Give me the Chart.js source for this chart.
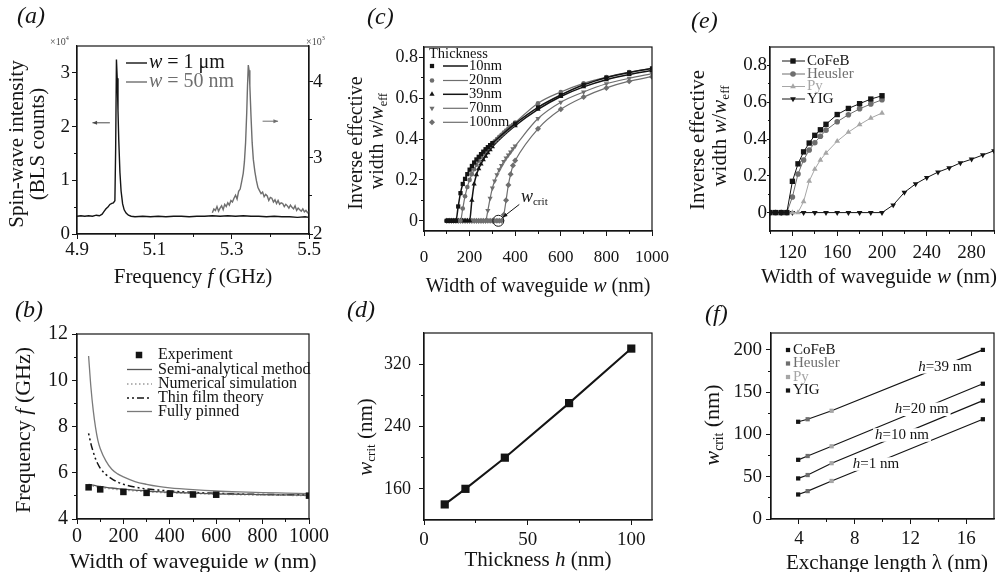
<!DOCTYPE html>
<html>
<head>
<meta charset="utf-8">
<title>Spin-wave waveguide figure</title>
<script src="https://cdn.jsdelivr.net/npm/chart.js@4.4.1/dist/chart.umd.min.js"></script>
<style>
  html, body { margin: 0; padding: 0; background: #fff; }
  #fig { position: relative; width: 998px; height: 572px; overflow: hidden; background: #fff; }
  #fig canvas { position: absolute; left: 0; top: 0; }
</style>
</head>
<body>
<div id="fig">
  <canvas id="chartA" width="998" height="572"></canvas>
  <canvas id="chartB" width="998" height="572"></canvas>
  <canvas id="chartC" width="998" height="572"></canvas>
  <canvas id="chartD" width="998" height="572"></canvas>
  <canvas id="chartE" width="998" height="572"></canvas>
  <canvas id="chartF" width="998" height="572"></canvas>
</div>
<script>
/* 1. 그림에서 읽은 데이터 */

// (a) BLS 스펙트럼
const aBlackF = [4.900, 4.910, 4.920, 4.930, 4.940, 4.950, 4.958, 4.965, 4.970, 4.975, 4.980,
                 4.985, 4.990, 4.994, 4.998, 5.000, 5.002, 5.004, 5.006, 5.008, 5.011,
                 5.014, 5.018, 5.022, 5.027, 5.033, 5.040, 5.050, 5.070, 5.090, 5.110,
                 5.130, 5.150, 5.170, 5.190, 5.210, 5.230, 5.250, 5.270, 5.290, 5.310,
                 5.330, 5.350, 5.370, 5.390, 5.410, 5.430, 5.450, 5.470, 5.490, 5.500];
const aBlackI = [0.33, 0.34, 0.33, 0.34, 0.33, 0.35, 0.34, 0.37, 0.42, 0.47, 0.50,
                 0.55, 0.57, 0.58, 0.62, 1.60, 3.25, 2.90, 2.30, 1.75, 1.15,
                 0.80, 0.56, 0.45, 0.39, 0.35, 0.33, 0.32, 0.33, 0.32, 0.33,
                 0.32, 0.33, 0.33, 0.32, 0.33, 0.33, 0.34, 0.33, 0.34, 0.33,
                 0.34, 0.33, 0.33, 0.32, 0.33, 0.32, 0.32, 0.31, 0.32, 0.31];
const aGrayF = [5.250, 5.254, 5.258, 5.262, 5.266,
                5.270, 5.274, 5.278, 5.282, 5.286,
                5.290, 5.294, 5.298, 5.302, 5.306,
                5.310, 5.314, 5.318, 5.322, 5.326,
                5.330, 5.333, 5.336, 5.339, 5.341,
                5.343, 5.345, 5.347, 5.350, 5.353,
                5.356, 5.360, 5.364, 5.368, 5.372,
                5.376, 5.380, 5.384, 5.388, 5.392,
                5.396, 5.400, 5.404, 5.408, 5.412,
                5.416, 5.420, 5.424, 5.428, 5.432,
                5.436, 5.440, 5.444, 5.448, 5.452,
                5.456, 5.460, 5.464, 5.468, 5.472,
                5.476, 5.480, 5.484, 5.488, 5.492,
                5.496, 5.500];
const aGrayI = [2.28, 2.33, 2.31, 2.36, 2.30,
                2.34, 2.37, 2.32, 2.39, 2.36,
                2.41, 2.38, 2.44, 2.42, 2.47,
                2.51, 2.46, 2.56, 2.59, 2.69,
                2.80, 2.95, 3.20, 3.60, 3.95,
                4.22, 4.15, 3.95, 3.55, 3.20,
                2.98, 2.82, 2.70, 2.61, 2.57,
                2.53, 2.55, 2.49, 2.52, 2.50,
                2.44, 2.48, 2.47, 2.42, 2.45,
                2.40, 2.44, 2.39, 2.41, 2.40,
                2.36, 2.39, 2.37, 2.34, 2.38,
                2.35, 2.33, 2.37, 2.31, 2.34,
                2.32, 2.30, 2.33, 2.29, 2.31,
                2.28, 2.30];
const aXMajor = [4.9, 5.1, 5.3, 5.5], aXMinor = [5.0, 5.2, 5.4];
const aYMajor = [0, 1, 2, 3], aYMinor = [0.5, 1.5, 2.5];
const aY2Major = [2, 3, 4], aY2Minor = [2.5, 3.5];

// (b) 주파수 vs 폭
const bExpW = [50, 100, 200, 300, 400, 500, 600, 1000];
const bExpF = [5.37, 5.28, 5.17, 5.13, 5.09, 5.06, 5.05, 5.01];
const bW = [50, 60, 70, 80, 90, 100, 125, 150, 175, 200, 250, 300, 350, 400, 500, 600, 700, 800, 900, 1000];
const bSemi = [5.50, 5.48, 5.46, 5.44, 5.42, 5.41, 5.37, 5.34, 5.31, 5.29, 5.25, 5.21, 5.18, 5.16, 5.12, 5.09, 5.07, 5.05, 5.04, 5.03];
const bNum = [5.46, 5.44, 5.42, 5.40, 5.38, 5.36, 5.33, 5.30, 5.27, 5.25, 5.21, 5.18, 5.15, 5.13, 5.10, 5.07, 5.05, 5.03, 5.02, 5.01];
const bThin = [7.70, 7.25, 6.90, 6.60, 6.38, 6.20, 5.92, 5.74, 5.60, 5.50, 5.38, 5.30, 5.25, 5.21, 5.15, 5.11, 5.08, 5.06, 5.05, 5.04];
const bPinned = [11.05, 9.70, 8.70, 7.95, 7.40, 7.05, 6.50, 6.15, 5.95, 5.82, 5.62, 5.50, 5.41, 5.35, 5.27, 5.21, 5.17, 5.14, 5.12, 5.10];
const bXMajor = [0, 200, 400, 600, 800, 1000], bXMinor = [100, 300, 500, 700, 900];
const bYMajor = [4, 6, 8, 10, 12], bYMinor = [5, 7, 9, 11];

// (c) 두께별 w/w_eff
const c10W = [100, 110, 120, 130, 140, 150, 160, 170, 180, 190, 200, 210, 220, 230, 240, 250, 260, 270, 280, 290, 300,
              400, 500, 600, 700, 800, 900, 1000];
const c10V = [0, 0, 0, 0, 0, 0.07, 0.135, 0.18, 0.205, 0.228, 0.25, 0.268, 0.285, 0.30, 0.313, 0.326, 0.338, 0.35, 0.36, 0.37, 0.38,
              0.475, 0.555, 0.615, 0.665, 0.70, 0.725, 0.745];
const c20W = [100, 110, 120, 130, 140, 150, 160, 170, 180, 190, 200, 210, 220, 230, 240, 250, 260, 270, 280, 290, 300,
              310, 320, 330, 340, 350, 360, 370, 380, 390, 400, 500, 600, 700, 800, 900, 1000];
const c20V = [0, 0, 0, 0, 0, 0, 0, 0.06, 0.12, 0.165, 0.20, 0.228, 0.252, 0.274, 0.294, 0.312, 0.328, 0.342, 0.355, 0.367, 0.378,
              0.389, 0.40, 0.411, 0.421, 0.431, 0.441, 0.451, 0.461, 0.47, 0.48, 0.575, 0.63, 0.672, 0.703, 0.727, 0.745];
const c39W = [100, 110, 120, 130, 140, 150, 160, 170, 180, 190, 200, 210, 220, 230, 240, 250, 260, 270, 280, 290, 300,
              400, 500, 600, 700, 800, 900, 1000];
const c39V = [0, 0, 0, 0, 0, 0, 0, 0, 0, 0, 0, 0.10, 0.18, 0.225, 0.255, 0.278, 0.298, 0.316, 0.333, 0.348, 0.362,
              0.465, 0.545, 0.608, 0.655, 0.69, 0.715, 0.735];
const c70W = [100, 110, 120, 130, 140, 150, 160, 170, 180, 190, 200, 210, 220, 230, 240, 250, 260, 270,
              280, 290, 300, 310, 320, 330, 340, 350, 360, 370, 380, 390, 400, 500, 600, 700, 800, 900, 1000];
const c70V = [0, 0, 0, 0, 0, 0, 0, 0, 0, 0, 0, 0, 0, 0, 0, 0, 0, 0,
              0.05, 0.11, 0.16, 0.195, 0.225, 0.25, 0.27, 0.29, 0.307, 0.322, 0.337, 0.352, 0.366, 0.50, 0.58, 0.63, 0.67, 0.697, 0.72];
const c100W = [100, 110, 120, 130, 140, 150, 160, 170, 180, 190, 200, 210, 220, 230, 240, 250, 260, 270, 280, 290, 300,
               310, 320, 330, 340, 350, 360, 370, 380, 390, 400, 500, 600, 700, 800, 900, 1000];
const c100V = [0, 0, 0, 0, 0, 0, 0, 0, 0, 0, 0, 0, 0, 0, 0, 0, 0, 0, 0, 0, 0,
               0, 0, 0, 0, 0.03, 0.10, 0.175, 0.228, 0.27, 0.295, 0.45, 0.545, 0.605, 0.65, 0.683, 0.705];
const cXMajor = [0, 200, 400, 600, 800, 1000], cXMinor = [100, 300, 500, 700, 900];
const cYMajor = [0, 0.2, 0.4, 0.6, 0.8], cYMinor = [0.1, 0.3, 0.5, 0.7];

// (d) w_crit vs 두께
const dThick = [10, 20, 39, 70, 100];
const dWcrit = [140, 160, 200, 270, 340];
const dXMajor = [0, 50, 100], dXMinor = [25, 75];
const dYMajor = [160, 240, 320], dYMinor = [200, 280];

// (e) 재료별 w/w_eff
const eW1 = [100, 105, 110, 115, 120, 125, 130, 135, 140, 145, 150, 160, 170, 180, 190, 200];
const eCoFeB = [0, 0, 0, 0, 0.17, 0.265, 0.33, 0.378, 0.42, 0.45, 0.48, 0.533, 0.566, 0.592, 0.617, 0.635];
const eHeusler = [0, 0, 0, 0, 0.085, 0.21, 0.286, 0.34, 0.38, 0.415, 0.448, 0.494, 0.532, 0.564, 0.59, 0.613];
const ePy = [0, 0, 0, 0, 0, 0, 0.06, 0.171, 0.236, 0.286, 0.324, 0.388, 0.437, 0.478, 0.514, 0.541];
const eW2 = [100, 110, 120, 130, 140, 150, 160, 170, 180, 190, 200, 210, 220, 230, 240, 250, 260, 270, 280, 290, 300];
const eYIG = [0, 0, 0, 0, 0, 0, 0, 0, 0, 0, 0, 0.041, 0.11, 0.156, 0.19, 0.22, 0.243, 0.27, 0.29, 0.313, 0.336];
const eXMajor = [120, 160, 200, 240, 280], eXMinor = [100, 140, 180, 220, 260, 300];
const eYMajor = [0, 0.2, 0.4, 0.6, 0.8], eYMinor = [0.1, 0.3, 0.5, 0.7];

// (f) w_crit vs 교환길이
const fMaterials = ['CoFeB', 'Heusler', 'Py', 'YIG'];
const fLambda = [3.95, 4.63, 6.35, 17.2];
const fH1 = [29, 33, 45, 118];
const fH10 = [48, 52, 66, 140];
const fH20 = [70, 74.5, 86, 160];
const fH39 = [115, 118, 128, 200];
const fXMajor = [4, 8, 12, 16], fXMinor = [6, 10, 14];
const fYMajor = [0, 50, 100, 150, 200], fYMinor = [25, 75, 125, 175];

/* 2. 공통 스타일 / 헬퍼 */
const W = 998, H = 572;
const SERIF = '"Liberation Serif", "Times New Roman", serif';
const BLACK = '#141414', DARK = '#4a4a4a', GRAY = '#6e6e6e', LIGHT = '#a6a6a6';
const MAT_COLORS = [BLACK, GRAY, LIGHT, BLACK];

// 축 박스 크기 (라벨이 축 박스 안으로 클립되므로 실제 크기가 필요)
const XBOX = 45, YBOX = 70, Y2BOX = 25;

// 각 패널의 플롯 영역 (페이지 좌표)
const AREA = {
    a: { l: 77, t: 46, r: 309, b: 234, right: Y2BOX },
    b: { l: 77, t: 334, r: 309, b: 519 },
    c: { l: 424, t: 47, r: 652, b: 231 },
    d: { l: 424, t: 333, r: 652, b: 520 },
    e: { l: 770, t: 47, r: 997, b: 231 },
    f: { l: 771, t: 333, r: 997, b: 519 }
};

function pts(xs, ys) {
    return xs.map((x, i) => ({ x: x, y: ys[i] }));
}

function fitTo(size) {
    return s => {
        if (s.isHorizontal()) s.height = size; else s.width = size;
        s.paddingLeft = 0; s.paddingRight = 0; s.paddingTop = 0; s.paddingBottom = 0;
    };
}

function linAxis(pos, min, max, majors, fs, pad, tl) {
    const size = pos === 'bottom' ? XBOX : (pos === 'right' ? Y2BOX : YBOX);
    return {
        type: 'linear', position: pos, min: min, max: max,
        afterBuildTicks: s => { s.ticks = majors.map(v => ({ value: v })); },
        afterFit: fitTo(size),
        grid: { drawOnChartArea: false, drawTicks: true, tickLength: tl, color: BLACK, tickColor: BLACK, tickWidth: 1 },
        border: { display: true, color: BLACK, width: 1.2 },
        ticks: { autoSkip: false, maxRotation: 0, padding: pad, color: BLACK,
                  font: { family: SERIF, size: fs }, callback: v => String(v) }
    };
}

function minorAxis(pos, min, max, minors, tl) {
    return {
        type: 'linear', position: pos, min: min, max: max, weight: -1,
        afterBuildTicks: s => { s.ticks = minors.map(v => ({ value: v })); },
        afterFit: fitTo(0),
        grid: { drawOnChartArea: false, drawTicks: true, tickLength: tl, color: BLACK, tickColor: BLACK, tickWidth: 1 },
        border: { display: false },
        ticks: { display: false }
    };
}

function baseOptions(area, scales) {
    return {
        responsive: false, animation: false, devicePixelRatio: 1, events: [],
        layout: { padding: {
            left: area.l - YBOX, top: area.t,
            right: W - area.r - (area.right || 0), bottom: H - area.b - XBOX } },
        plugins: { legend: { display: false }, tooltip: { enabled: false } },
        scales: scales
    };
}

const framePlugin = {
    id: 'frame',
    afterDatasetsDraw(chart) {
        const a = chart.chartArea, ctx = chart.ctx;
        ctx.save();
        ctx.strokeStyle = BLACK;
        ctx.lineWidth = 1.2;
        ctx.strokeRect(a.left, a.top, a.right - a.left, a.bottom - a.top);
        ctx.restore();
    }
};

function decor(fn) {
    return { id: 'decor', afterDraw(chart) { fn(chart.ctx, chart); } };
}

// 이탤릭 / 아래첨자 / 위첨자가 섞인 텍스트
function richText(ctx, x, y, runs, size, opts) {
    opts = opts || {};
    ctx.save();
    ctx.translate(x, y);
    if (opts.rot) ctx.rotate(opts.rot);
    ctx.textBaseline = 'middle';
    ctx.textAlign = 'left';
    ctx.fillStyle = opts.color || BLACK;
    const parts = runs.map(r => {
        const st = r[1] || 'n';
        const fs = (st === 'sub' || st === 'sup') ? size * 0.62 : size;
        const font = (st === 'i' ? 'italic ' : '') + fs + 'px ' + SERIF;
        ctx.font = font;
        return { t: r[0], st: st, font: font, w: ctx.measureText(r[0]).width };
    });
    const total = parts.reduce((s, p) => s + p.w, 0);
    let cx = opts.align === 'left' ? 0 : (opts.align === 'right' ? -total : -total / 2);
    if (opts.bg) {
        ctx.fillStyle = opts.bg;
        ctx.fillRect(cx - 2, -size * 0.45, total + 4, size * 0.9);
        ctx.fillStyle = opts.color || BLACK;
    }
    parts.forEach(p => {
        ctx.font = p.font;
        const dy = p.st === 'sub' ? size * 0.28 : (p.st === 'sup' ? -size * 0.35 : 0);
        ctx.fillText(p.t, cx, dy);
        cx += p.w;
    });
    ctx.restore();
    return total;
}

function drawMarker(ctx, style, x, y, r, color, rot) {
    ctx.save();
    ctx.fillStyle = color;
    ctx.beginPath();
    if (style === 'rect') {
        const s = r * Math.SQRT1_2;
        ctx.rect(x - s, y - s, 2 * s, 2 * s);
    } else if (style === 'circle') {
        ctx.arc(x, y, r, 0, Math.PI * 2);
    } else if (style === 'rectRot') {
        ctx.moveTo(x, y - r); ctx.lineTo(x + r, y); ctx.lineTo(x, y + r); ctx.lineTo(x - r, y); ctx.closePath();
    } else if (style === 'triangle') {
        const d = rot ? -1 : 1;
        ctx.moveTo(x, y - d * r);
        ctx.lineTo(x + r * 0.866, y + d * r * 0.5);
        ctx.lineTo(x - r * 0.866, y + d * r * 0.5);
        ctx.closePath();
    }
    ctx.fill();
    ctx.restore();
}

function lineSample(ctx, x0, x1, y, color, width, dash) {
    ctx.save();
    ctx.strokeStyle = color;
    ctx.lineWidth = width;
    ctx.setLineDash(dash || []);
    ctx.beginPath();
    ctx.moveTo(x0, y);
    ctx.lineTo(x1, y);
    ctx.stroke();
    ctx.restore();
}

function arrow(ctx, x0, y0, x1, y1, color, head) {
    const ang = Math.atan2(y1 - y0, x1 - x0);
    ctx.save();
    ctx.strokeStyle = color;
    ctx.fillStyle = color;
    ctx.lineWidth = 1;
    ctx.beginPath(); ctx.moveTo(x0, y0); ctx.lineTo(x1, y1); ctx.stroke();
    ctx.beginPath();
    ctx.moveTo(x1, y1);
    ctx.lineTo(x1 - head * Math.cos(ang - 0.4), y1 - head * Math.sin(ang - 0.4));
    ctx.lineTo(x1 - head * Math.cos(ang + 0.4), y1 - head * Math.sin(ang + 0.4));
    ctx.closePath();
    ctx.fill();
    ctx.restore();
}

const ROT = -Math.PI / 2;

/* 3. (a) */
new Chart(document.getElementById('chartA'), {
    type: 'scatter',
    data: { datasets: [
        { label: 'w = 1 μm', data: pts(aBlackF, aBlackI), showLine: true, borderColor: BLACK, borderWidth: 1.4, pointRadius: 0, yAxisID: 'y' },
        { label: 'w = 50 nm', data: pts(aGrayF, aGrayI), showLine: true, borderColor: GRAY, borderWidth: 1.4, pointRadius: 0, yAxisID: 'y2' }
    ] },
    options: baseOptions(AREA.a, {
        x: linAxis('bottom', 4.9, 5.5, aXMajor, 19, 0, 5),
        xm: minorAxis('bottom', 4.9, 5.5, aXMinor, 3),
        y: linAxis('left', 0, 3.5, aYMajor, 19, 2, 5),
        ym: minorAxis('left', 0, 3.5, aYMinor, 3),
        y2: linAxis('right', 2, 4.47, aY2Major, 19, 0, 4),
        y2m: minorAxis('right', 2, 4.47, aY2Minor, 3)
    }),
    plugins: [framePlugin, decor((ctx, c) => {
        richText(ctx, 17, 17, [['(a)', 'i']], 24, { align: 'left' });
        richText(ctx, 193, 277, [['Frequency ', 'n'], ['f', 'i'], [' (GHz)', 'n']], 21);
        richText(ctx, 17, 144, [['Spin-wave intensity', 'n']], 21, { rot: ROT });
        richText(ctx, 38, 144, [['(BLS counts)', 'n']], 21, { rot: ROT });
        richText(ctx, 50, 42, [['×10', 'n'], ['4', 'sup']], 10, { align: 'left', color: DARK });
        richText(ctx, 306, 42, [['×10', 'n'], ['3', 'sup']], 10, { align: 'left', color: DARK });
        // 범례
        lineSample(ctx, 126, 147, 63, BLACK, 1.4);
        richText(ctx, 149, 63, [['w', 'i'], [' = 1 μm', 'n']], 20, { align: 'left' });
        lineSample(ctx, 126, 147, 82, GRAY, 1.4);
        richText(ctx, 149, 82, [['w', 'i'], [' = 50 nm', 'n']], 20, { align: 'left', color: GRAY });
        // 축 방향 화살표
        const x = c.scales.x, y = c.scales.y;
        arrow(ctx, x.getPixelForValue(4.985), y.getPixelForValue(2.07), x.getPixelForValue(4.94), y.getPixelForValue(2.07), DARK, 5);
        arrow(ctx, x.getPixelForValue(5.38), y.getPixelForValue(2.1), x.getPixelForValue(5.42), y.getPixelForValue(2.1), GRAY, 5);
    })]
});

/* 4. (b) */
new Chart(document.getElementById('chartB'), {
    type: 'scatter',
    data: { datasets: [
        { label: 'Experiment', data: pts(bExpW, bExpF), pointStyle: 'rect', pointRadius: 4.6, backgroundColor: BLACK, borderWidth: 0 },
        { label: 'Semi-analytical method', data: pts(bW, bSemi), showLine: true, borderColor: '#555', borderWidth: 1.3, pointRadius: 0, cubicInterpolationMode: 'monotone' },
        { label: 'Numerical simulation', data: pts(bW, bNum), showLine: true, borderColor: '#9a9a9a', borderDash: [1.5, 2.5], borderWidth: 1.3, pointRadius: 0, cubicInterpolationMode: 'monotone' },
        { label: 'Thin film theory', data: pts(bW, bThin), showLine: true, borderColor: BLACK, borderDash: [2, 3, 2, 3, 7, 3], borderWidth: 1.5, pointRadius: 0, cubicInterpolationMode: 'monotone' },
        { label: 'Fully pinned', data: pts(bW, bPinned), showLine: true, borderColor: '#7a7a7a', borderWidth: 1.3, pointRadius: 0, cubicInterpolationMode: 'monotone' }
    ] },
    options: baseOptions(AREA.b, {
        x: linAxis('bottom', 0, 1000, bXMajor, 20, 1, 5),
        xm: minorAxis('bottom', 0, 1000, bXMinor, 3),
        y: linAxis('left', 4, 12, bYMajor, 20, 4, 5),
        ym: minorAxis('left', 4, 12, bYMinor, 3)
    }),
    plugins: [framePlugin, decor((ctx, c) => {
        richText(ctx, 15, 311, [['(b)', 'i']], 24, { align: 'left' });
        richText(ctx, 193, 562, [['Width of waveguide ', 'n'], ['w', 'i'], [' (nm)', 'n']], 22);
        richText(ctx, 24, 430, [['Frequency ', 'n'], ['f', 'i'], [' (GHz)', 'n']], 22, { rot: ROT });
        const rows = [355, 369.5, 384, 398, 411.5];
        c.data.datasets.forEach((ds, i) => {
            if (i === 0) drawMarker(ctx, 'rect', 139, rows[i], 4.6, BLACK);
            else lineSample(ctx, 127, 152, rows[i], ds.borderColor, ds.borderWidth, ds.borderDash);
            richText(ctx, 158, rows[i], [[ds.label, 'n']], 16, { align: 'left' });
        });
    })]
});

/* 5. (c) */
function cSeries(label, w, v, color, style, r, rot, bw) {
    return { label: label, data: pts(w, v), showLine: true, borderColor: color, backgroundColor: color,
             borderWidth: bw, pointStyle: style, pointRadius: r, pointRotation: rot, pointBorderWidth: 0,
             cubicInterpolationMode: 'monotone' };
}
new Chart(document.getElementById('chartC'), {
    type: 'scatter',
    data: { datasets: [
        cSeries('10nm', c10W, c10V, BLACK, 'rect', 3, 0, 1.5),
        cSeries('20nm', c20W, c20V, GRAY, 'circle', 2.3, 0, 1.2),
        cSeries('39nm', c39W, c39V, BLACK, 'triangle', 3, 0, 1.5),
        cSeries('70nm', c70W, c70V, GRAY, 'triangle', 3, 180, 1.2),
        cSeries('100nm', c100W, c100V, GRAY, 'rectRot', 3, 0, 1.2)
    ] },
    options: baseOptions(AREA.c, {
        x: linAxis('bottom', 0, 1000, cXMajor, 17, 11, 5),
        xm: minorAxis('bottom', 0, 1000, cXMinor, 3),
        y: linAxis('left', -0.05, 0.85, cYMajor, 18, 1, 5),
        ym: minorAxis('left', -0.05, 0.85, cYMinor, 3)
    }),
    plugins: [framePlugin, decor((ctx, c) => {
        richText(ctx, 367, 18, [['(c)', 'i']], 24, { align: 'left' });
        richText(ctx, 538, 287, [['Width of waveguide ', 'n'], ['w', 'i'], [' (nm)', 'n']], 20);
        richText(ctx, 357, 143, [['Inverse effective', 'n']], 20, { rot: ROT });
        richText(ctx, 378, 141, [['width ', 'n'], ['w', 'i'], ['/', 'n'], ['w', 'i'], ['eff', 'sub']], 20, { rot: ROT });
        // 범례
        richText(ctx, 429, 54, [['Thickness', 'n']], 14.5, { align: 'left' });
        const rows = [66, 80.5, 94.3, 108.3, 122.3];
        c.data.datasets.forEach((ds, i) => {
            drawMarker(ctx, ds.pointStyle, 432, rows[i], ds.pointRadius, ds.borderColor, ds.pointRotation);
            lineSample(ctx, 443, 468, rows[i], ds.borderColor, ds.borderWidth);
            richText(ctx, 469, rows[i], [[ds.label, 'n']], 14.5, { align: 'left' });
        });
        // w_crit 표시
        const x = c.scales.x, y = c.scales.y;
        const cx = x.getPixelForValue(326), cy = y.getPixelForValue(0);
        ctx.save();
        ctx.strokeStyle = BLACK;
        ctx.lineWidth = 1;
        ctx.beginPath();
        ctx.arc(cx, cy, 5.5, 0, Math.PI * 2);
        ctx.stroke();
        ctx.restore();
        arrow(ctx, x.getPixelForValue(418), y.getPixelForValue(0.08), cx + 4.5, cy - 3.5, BLACK, 5);
        richText(ctx, x.getPixelForValue(425), y.getPixelForValue(0.115), [['w', 'i'], ['crit', 'sub']], 18, { align: 'left' });
    })]
});

/* 6. (d) */
new Chart(document.getElementById('chartD'), {
    type: 'scatter',
    data: { datasets: [
        { label: 'w_crit', data: pts(dThick, dWcrit), showLine: true, borderColor: BLACK, borderWidth: 2,
          pointStyle: 'rect', pointRadius: 5.8, backgroundColor: BLACK, pointBorderWidth: 0 }
    ] },
    options: baseOptions(AREA.d, {
        x: linAxis('bottom', 0, 110, dXMajor, 19, 4, 5),
        xm: minorAxis('bottom', 0, 110, dXMinor, 3),
        y: linAxis('left', 120, 360, dYMajor, 18, 8, 5),
        ym: minorAxis('left', 120, 360, dYMinor, 3)
    }),
    plugins: [framePlugin, decor(ctx => {
        richText(ctx, 347, 311, [['(d)', 'i']], 24, { align: 'left' });
        richText(ctx, 538, 560, [['Thickness ', 'n'], ['h', 'i'], [' (nm)', 'n']], 21);
        richText(ctx, 366, 437, [['w', 'i'], ['crit', 'sub'], [' (nm)', 'n']], 21, { rot: ROT });
    })]
});

/* 7. (e) */
function eSeries(label, w, v, color, style, r, rot) {
    return { label: label, data: pts(w, v), showLine: true, borderColor: color, backgroundColor: color,
             borderWidth: 1, pointStyle: style, pointRadius: r, pointRotation: rot, pointBorderWidth: 0 };
}
new Chart(document.getElementById('chartE'), {
    type: 'scatter',
    data: { datasets: [
        eSeries('CoFeB', eW1, eCoFeB, BLACK, 'rect', 3.8, 0),
        eSeries('Heusler', eW1, eHeusler, GRAY, 'circle', 2.8, 0),
        eSeries('Py', eW1, ePy, LIGHT, 'triangle', 3.3, 0),
        eSeries('YIG', eW2, eYIG, BLACK, 'triangle', 3.3, 180)
    ] },
    options: baseOptions(AREA.e, {
        x: linAxis('bottom', 100, 300, eXMajor, 19, 6, 5),
        xm: minorAxis('bottom', 100, 300, eXMinor, 3),
        y: linAxis('left', -0.1, 0.9, eYMajor, 19, 0, 3),
        ym: minorAxis('left', -0.1, 0.9, eYMinor, 2)
    }),
    plugins: [framePlugin, decor((ctx, c) => {
        richText(ctx, 691, 22, [['(e)', 'i']], 24, { align: 'left' });
        richText(ctx, 879, 277, [['Width of waveguide ', 'n'], ['w', 'i'], [' (nm)', 'n']], 21);
        richText(ctx, 698, 140, [['Inverse effective', 'n']], 21, { rot: ROT });
        richText(ctx, 720, 136, [['width ', 'n'], ['w', 'i'], ['/', 'n'], ['w', 'i'], ['eff', 'sub']], 21, { rot: ROT });
        const rows = [61, 74, 86.5, 99];
        c.data.datasets.forEach((ds, i) => {
            lineSample(ctx, 782, 805, rows[i], ds.borderColor, 1);
            drawMarker(ctx, ds.pointStyle, 793, rows[i], ds.pointRadius, ds.borderColor, ds.pointRotation);
            richText(ctx, 807, rows[i], [[ds.label, 'n']], 15, { align: 'left', color: ds.borderColor });
        });
    })]
});

/* 8. (f) */
function fSeries(label, w) {
    return { label: label, data: pts(fLambda, w), showLine: true, borderColor: BLACK, borderWidth: 1.2,
             pointStyle: 'rect', pointRadius: 3, pointBackgroundColor: MAT_COLORS, pointBorderWidth: 0 };
}
new Chart(document.getElementById('chartF'), {
    type: 'scatter',
    data: { datasets: [
        fSeries('h=1 nm', fH1),
        fSeries('h=10 nm', fH10),
        fSeries('h=20 nm', fH20),
        fSeries('h=39 nm', fH39)
    ] },
    options: baseOptions(AREA.f, {
        x: linAxis('bottom', 2, 18, fXMajor, 19, 4, 5),
        xm: minorAxis('bottom', 2, 18, fXMinor, 3),
        y: linAxis('left', 0, 220, fYMajor, 19, 4, 5),
        ym: minorAxis('left', 0, 220, fYMinor, 3)
    }),
    plugins: [framePlugin, decor((ctx, c) => {
        richText(ctx, 705, 315, [['(f)', 'i']], 24, { align: 'left' });
        richText(ctx, 887, 563, [['Exchange length λ (nm)', 'n']], 21);
        richText(ctx, 713, 425, [['w', 'i'], ['crit', 'sub'], [' (nm)', 'n']], 22, { rot: ROT });
        // 재료 범례
        const rows = [350, 363.5, 377, 390.5];
        fMaterials.forEach((m, i) => {
            drawMarker(ctx, 'rect', 788, rows[i], 3, MAT_COLORS[i]);
            richText(ctx, 793, rows[i], [[m, 'n']], 15, { align: 'left', color: MAT_COLORS[i] });
        });
        // 두께 라벨 (선 위에 흰 배경)
        const x = c.scales.x, y = c.scales.y;
        const labelPos = [[9.53, 65], [11.4, 99.4], [12.81, 129.8], [14.49, 180]];
        c.data.datasets.forEach((ds, i) => {
            const txt = ds.label.split('=');
            richText(ctx, x.getPixelForValue(labelPos[i][0]), y.getPixelForValue(labelPos[i][1]),
                     [[txt[0], 'i'], ['=' + txt[1], 'n']], 15, { bg: '#fff' });
        });
    })]
});
</script>
</body>
</html>
